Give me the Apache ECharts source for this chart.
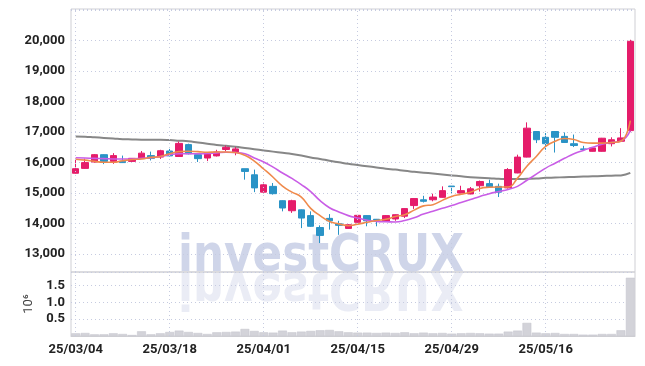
<!DOCTYPE html>
<html><head><meta charset="utf-8">
<script src="https://cdn.jsdelivr.net/npm/echarts@6/dist/echarts.min.js"></script>
<style>html,body{margin:0;padding:0;background:#fff}#c{width:645px;height:366px}</style>
</head><body><div id="c"></div>
<script>
const dates = ['25/03/04','25/03/05','25/03/06','25/03/07','25/03/10','25/03/11','25/03/12','25/03/13','25/03/14','25/03/17',
'25/03/18','25/03/19','25/03/20','25/03/21','25/03/24','25/03/25','25/03/26','25/03/27','25/03/28','25/03/31',
'25/04/01','25/04/02','25/04/03','25/04/04','25/04/07','25/04/08','25/04/09','25/04/10','25/04/11','25/04/14',
'25/04/15','25/04/16','25/04/17','25/04/18','25/04/21','25/04/22','25/04/23','25/04/24','25/04/25','25/04/28',
'25/04/29','25/04/30','25/05/02','25/05/07','25/05/08','25/05/09','25/05/12','25/05/13','25/05/14','25/05/15',
'25/05/16','25/05/19','25/05/20','25/05/21','25/05/22','25/05/23','25/05/26','25/05/27','25/05/28','25/05/29'];
const labelDates = ['25/03/04','25/03/18','25/04/01','25/04/15','25/04/29','25/05/16'];

const opens  = [15650,15810,16020,16260,16040,16040,16040,16140,16230,16180,
16380,16200,16590,16260,16150,16220,16430,16350,15800,15600,
15030,15220,14750,14420,14450,14260,13870,14170,13990,13840,
14040,14260,14140,14070,14150,14240,14590,14780,14780,14860,
15230,15000,14970,15240,15310,15220,15170,15660,16180,17020,
16830,17020,16860,16620,16450,16370,16370,16620,16700,17050];
const closes = [15800,16000,16260,16040,16230,16000,16140,16310,16140,16390,
16220,16630,16290,16130,16280,16350,16500,16450,15710,15170,
15270,14980,14510,14750,14180,13910,13610,14090,13940,13960,
14270,14090,14120,14260,14290,14490,14820,14730,14870,15080,
15210,15080,15140,15380,15200,15030,15770,16180,17130,16750,
16620,16830,16660,16560,16430,16480,16800,16750,16810,19980];
const lows   = [15640,15800,16000,15950,15960,15990,16020,16120,16070,16120,
16200,16190,16270,16020,16050,16200,16370,16240,15440,15030,
15020,14950,14400,14350,13850,13890,13360,13800,13630,13830,
14030,13910,13910,14060,14090,14180,14480,14690,14730,14850,
15000,14990,14960,15050,15190,14870,15150,15650,16170,16640,
16420,16330,16650,16510,16420,16360,16360,16530,16690,17000];
const highs  = [16130,16130,16280,16270,16310,16230,16150,16380,16360,16420,
16450,16690,16620,16270,16290,16420,16560,16510,15800,15770,
15350,15330,14760,14780,14460,14400,13940,14310,14090,13980,
14280,14270,14150,14280,14300,14500,14830,14910,14980,15220,
15230,15240,15200,15410,15440,15310,15820,16260,17320,17030,
16970,17030,16990,16920,16550,16490,16810,16830,17130,20030];
const volumes = [80000,90000,50000,50000,80000,60000,30000,140000,50000,80000,
120000,160000,120000,90000,60000,110000,120000,130000,210000,150000,
110000,100000,160000,110000,130000,150000,170000,180000,140000,110000,
100000,100000,90000,100000,90000,110000,80000,100000,80000,90000,
70000,80000,90000,80000,70000,70000,130000,160000,390000,100000,
80000,90000,60000,60000,40000,40000,60000,60000,170000,1730000];
const ma5 = [16110,16080,16040,16010,16010,16060,16100,16120,16170,16200,
16290,16360,16370,16360,16340,16350,16350,16330,16240,16050,
15790,15520,15230,15030,14870,14500,14260,14070,13990,13930,
13980,14040,14100,14140,14230,14290,14440,14580,14620,14760,
14890,14960,15030,15150,15190,15200,15200,15490,15880,16200,
16530,16700,16790,16760,16660,16640,16640,16660,16700,17380];
const ma20 = [16160,16150,16140,16130,16120,16120,16120,16140,16160,16200,
16260,16290,16290,16290,16300,16320,16340,16330,16290,16150,
16020,15850,15660,15480,15280,15050,14750,14520,14380,14260,
14180,14110,14070,14060,14050,14100,14190,14310,14400,14500,
14590,14690,14790,14890,14980,15050,15120,15220,15420,15620,
15820,15980,16140,16290,16400,16500,16600,16660,16710,17050];
const ma120 = [16860,16850,16830,16810,16790,16770,16760,16750,16750,16750,
16740,16720,16700,16660,16620,16580,16550,16520,16480,16440,
16400,16360,16320,16280,16230,16170,16120,16060,16010,15960,
15920,15880,15840,15800,15770,15730,15700,15670,15640,15610,
15580,15550,15520,15500,15490,15470,15460,15460,15470,15480,
15500,15510,15520,15530,15540,15550,15560,15570,15580,15660];

const UP = '#e51c6a', DOWN = '#2a93c6';
const GRIDC = '#c6cbe0';
const FONT = 'Roboto, sans-serif';
const ohlc = opens.map((o, i) => [o, closes[i], lows[i], highs[i]]);
const vLines = {
  silent: true, symbol: 'none', label: {show: false}, animation: false,
  lineStyle: {color: GRIDC, type: [1, 3], width: 1},
  data: labelDates.map(d => ({xAxis: d}))
};

const chart = echarts.init(document.getElementById('c'), null, {renderer: 'canvas'});
chart.setOption({
  animation: false,
  backgroundColor: '#fff',
  grid: [
    {left: 71, right: 10, top: 9, height: 263, show: true, borderColor: '#cfcfd4', borderWidth: 1},
    {left: 71, right: 10, top: 272, bottom: 30, show: true, borderColor: '#cfcfd4', borderWidth: 1}
  ],
  xAxis: [
    {type: 'category', gridIndex: 0, data: dates, boundaryGap: true,
     axisLine: {show: false}, axisTick: {show: false}, axisLabel: {show: false}, splitLine: {show: false}},
    {type: 'category', gridIndex: 1, data: dates, boundaryGap: true,
     axisLine: {show: true, lineStyle: {color: '#cfcfd4'}}, axisTick: {show: false},
     axisLabel: {interval: 9, color: '#222', fontSize: 13, fontWeight: 'bold', fontFamily: FONT, margin: 7},
     splitLine: {show: false}}
  ],
  yAxis: [
    {type: 'value', gridIndex: 0, min: 12410, max: 21040, splitNumber: 8, scale: true,
     axisLine: {show: false}, axisTick: {show: false},
     axisLabel: {color: '#222', fontSize: 13, fontWeight: 'bold', fontFamily: FONT, margin: 6,
       showMinLabel: false, showMaxLabel: false,
       formatter: v => (v % 1000 === 0 && v <= 20000 && v >= 13000) ? v.toLocaleString('en-US') : ''},
     splitLine: {show: true, lineStyle: {color: GRIDC, type: [1, 3], width: 1}}},
    {type: 'value', gridIndex: 1, min: 0, max: 1900000, interval: 500000,
     axisLine: {show: false}, axisTick: {show: false},
     name: '10\u2076', nameLocation: 'middle', nameRotate: 90, nameGap: 28,
     nameTextStyle: {color: '#444', fontSize: 13, fontFamily: FONT},
     axisLabel: {color: '#222', fontSize: 13, fontWeight: 'bold', fontFamily: FONT, margin: 6,
       formatter: v => (v > 0 && v < 1600000) ? (v / 1e6).toFixed(1) : ''},
     splitLine: {show: true, lineStyle: {color: GRIDC, type: [1, 3], width: 1}}}
  ],
  graphic: [
    {type: 'text', x: 178, y: 283, scaleX: 0.84, z: 0, silent: true,
     style: {text: 'investCRUX', font: 'bold 52px "DejaVu Sans"', fill: 'rgba(188,197,224,0.72)', verticalAlign: 'bottom', align: 'left'}},
    {type: 'text', x: 178, y: 261, scaleX: 0.84, scaleY: -1, z: 0, silent: true,
     style: {text: 'investCRUX', font: 'bold 52px "DejaVu Sans"', fill: 'rgba(208,213,232,0.45)', verticalAlign: 'bottom', align: 'left'}}
  ],
  series: [
    {type: 'candlestick', xAxisIndex: 0, yAxisIndex: 0, data: ohlc, barWidth: 7, z: 3,
     itemStyle: {color: UP, color0: DOWN, borderColor: UP, borderColor0: DOWN, borderWidth: 1},
     markLine: vLines},
    {type: 'line', xAxisIndex: 0, yAxisIndex: 0, data: ma120, smooth: true, showSymbol: false, z: 2,
     lineStyle: {color: '#878787', width: 2}},
    {type: 'line', xAxisIndex: 0, yAxisIndex: 0, data: ma20, smooth: true, showSymbol: false, z: 4,
     lineStyle: {color: '#c95de6', width: 1.6}},
    {type: 'line', xAxisIndex: 0, yAxisIndex: 0, data: ma5, smooth: true, showSymbol: false, z: 4,
     lineStyle: {color: '#ef8a4c', width: 1.6}},
    {type: 'bar', xAxisIndex: 1, yAxisIndex: 1, data: volumes, barCategoryGap: '6%',
     itemStyle: {color: '#d3d3d9', borderColor: '#c4c4cc', borderWidth: 0.5},
     markLine: vLines}
  ]
});
</script></body></html>
